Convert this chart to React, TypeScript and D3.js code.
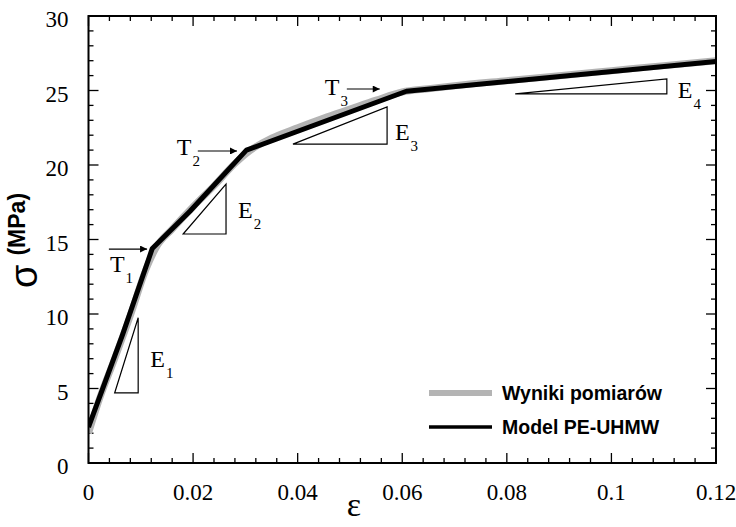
import React, { useRef, useEffect } from 'react';
import * as d3 from 'd3';

// axis ticks
const X_TICKS = [0, 0.02, 0.04, 0.06, 0.08, 0.1, 0.12];
const X_TICK_LABELS = ['0', '0.02', '0.04', '0.06', '0.08', '0.1', '0.12'];
const Y_TICKS = [0, 5, 10, 15, 20, 25, 30];
const Y_TICK_LABELS = ['0', '5', '10', '15', '20', '25', '30'];

// measured curve (gray)
const measStrain = [0, 0.002, 0.005, 0.008, 0.011, 0.013, 0.016, 0.02, 0.024, 0.028, 0.031, 0.035, 0.04, 0.045, 0.05, 0.055, 0.06, 0.065, 0.07, 0.08, 0.09, 0.1, 0.11, 0.12];
const measStress = [2.0, 4.2, 7.0, 9.9, 13.0, 14.5, 15.7, 17.2, 18.6, 20.1, 21.0, 21.8, 22.5, 23.15, 23.75, 24.35, 24.9, 25.12, 25.32, 25.66, 25.99, 26.33, 26.67, 27.0];

// model PE-UHMW (black)
const modelStrain = [0, 0.0065, 0.0122, 0.0194, 0.0302, 0.0608, 0.12];
const modelStress = [2.4, 8.6, 14.4, 16.9, 21.0, 24.95, 26.95];

// slope triangles E1..E4: hypotenuse from (x0, y0) to (x1, y1)
const triNames = ['1', '2', '3', '4'];
const triX0 = [0.005, 0.0181, 0.0391, 0.0816];
const triY0 = [4.7, 15.37, 21.4, 24.77];
const triX1 = [0.0095, 0.0263, 0.0571, 0.1106];
const triY1 = [9.75, 18.72, 23.9, 25.77];
const triLabelX = [0.0118, 0.0286, 0.0586, 0.1127];
const triLabelY = [6.44, 16.44, 21.68, 24.5];

// transition arrows T1..T3
const arrowNames = ['1', '2', '3'];
const arrowX0 = [0.0039, 0.0209, 0.0494];
const arrowX1 = [0.0112, 0.0284, 0.0557];
const arrowY = [14.36, 20.94, 25.1];
const arrowLabelX = [0.0041, 0.0169, 0.0452];
const arrowLabelY = [12.8, 20.67, 24.7];

const legendLabels = ['Wyniki pomiarów', 'Model PE-UHMW'];

export default function App() {
  const svgRef = useRef<SVGSVGElement>(null);

  useEffect(() => {
    if (!svgRef.current) return;
    const svg = d3.select(svgRef.current);
    svg.selectAll('*').remove();

    const width = 736;
    const height = 527;
    const margin = { top: 16, right: 20, bottom: 64, left: 88.5 };
    const serif = '"Times New Roman", "Liberation Serif", serif';
    const sans = 'Arial, "Liberation Sans", sans-serif';

    svg.attr('width', width).attr('height', height).attr('viewBox', `0 0 ${width} ${height}`);
    svg.append('rect').attr('width', width).attr('height', height).attr('fill', '#fff');

    const x = d3.scaleLinear().domain([0, 0.12]).range([margin.left, width - margin.right]);
    const y = d3.scaleLinear().domain([0, 30]).range([height - margin.bottom, margin.top]);

    const x0 = x(0), x1 = x(0.12), y0 = y(0), y1 = y(30);

    // minor / major ticks on all four sides, pointing inwards
    const xMinor = d3.range(0, 0.1201, 0.004);
    const yMinor = d3.range(0, 30.01, 1);
    const ticks = svg.append('g').attr('stroke', '#000').attr('stroke-width', 1.3);
    xMinor.forEach((v, i) => {
      const len = i % 5 === 0 ? 10 : 5;
      ticks.append('line').attr('x1', x(v)).attr('x2', x(v)).attr('y1', y0).attr('y2', y0 - len);
      ticks.append('line').attr('x1', x(v)).attr('x2', x(v)).attr('y1', y1).attr('y2', y1 + len);
    });
    yMinor.forEach((v, i) => {
      const len = i % 5 === 0 ? 10 : 5;
      ticks.append('line').attr('x1', x0).attr('x2', x0 + len).attr('y1', y(v)).attr('y2', y(v));
      ticks.append('line').attr('x1', x1).attr('x2', x1 - len).attr('y1', y(v)).attr('y2', y(v));
    });

    // curves
    const line = d3.line<[number, number]>().x(d => x(d[0])).y(d => y(d[1]));
    const meas = measStrain.map((s, i) => [s, measStress[i]] as [number, number]);
    const model = modelStrain.map((s, i) => [s, modelStress[i]] as [number, number]);

    const clip = svg.append('clipPath').attr('id', 'plot-clip');
    clip.append('rect').attr('x', x0).attr('y', y1).attr('width', x1 - x0).attr('height', y0 - y1);

    svg.append('path')
      .attr('d', line.curve(d3.curveMonotoneX)(meas))
      .attr('clip-path', 'url(#plot-clip)')
      .attr('fill', 'none')
      .attr('stroke', '#b4b4b4')
      .attr('stroke-width', 7)
      .attr('stroke-linejoin', 'round');

    svg.append('path')
      .attr('d', line.curve(d3.curveLinear)(model))
      .attr('clip-path', 'url(#plot-clip)')
      .attr('fill', 'none')
      .attr('stroke', '#000')
      .attr('stroke-width', 5)
      .attr('stroke-linejoin', 'round');

    // slope triangles
    triNames.forEach((n, i) => {
      const pts = [
        [x(triX0[i]), y(triY0[i])],
        [x(triX1[i]), y(triY1[i])],
        [x(triX1[i]), y(triY0[i])],
      ];
      svg.append('polygon')
        .attr('points', pts.map(p => p.join(',')).join(' '))
        .attr('fill', 'none')
        .attr('stroke', '#000')
        .attr('stroke-width', 1.2);
      const t = svg.append('text')
        .attr('x', x(triLabelX[i]))
        .attr('y', y(triLabelY[i]))
        .attr('font-family', serif)
        .attr('font-size', 24)
        .text('E');
      t.append('tspan').attr('font-size', 15).attr('dx', 1).attr('dy', 11).text(n);
    });

    // arrows
    const defs = svg.append('defs');
    defs.append('marker')
      .attr('id', 'arrowhead')
      .attr('viewBox', '0 0 10 10')
      .attr('refX', 10).attr('refY', 5)
      .attr('markerWidth', 10).attr('markerHeight', 7)
      .attr('markerUnits', 'userSpaceOnUse')
      .attr('orient', 'auto')
      .append('path').attr('d', 'M0,0 L10,5 L0,10 Z').attr('fill', '#000');

    arrowNames.forEach((n, i) => {
      svg.append('line')
        .attr('x1', x(arrowX0[i])).attr('x2', x(arrowX1[i]))
        .attr('y1', y(arrowY[i])).attr('y2', y(arrowY[i]))
        .attr('stroke', '#000').attr('stroke-width', 1.2)
        .attr('marker-end', 'url(#arrowhead)');
      const t = svg.append('text')
        .attr('x', x(arrowLabelX[i]))
        .attr('y', y(arrowLabelY[i]))
        .attr('font-family', serif)
        .attr('font-size', 24)
        .text('T');
      t.append('tspan').attr('font-size', 15).attr('dx', 1).attr('dy', 11).text(n);
    });

    // frame
    svg.append('rect')
      .attr('x', x0).attr('y', y1)
      .attr('width', x1 - x0).attr('height', y0 - y1)
      .attr('fill', 'none').attr('stroke', '#000').attr('stroke-width', 2);

    // tick labels
    svg.append('g').selectAll('text').data(X_TICKS).enter().append('text')
      .attr('x', d => x(d)).attr('y', y0 + 37)
      .attr('text-anchor', 'middle')
      .attr('font-family', serif).attr('font-size', 23)
      .text((d, i) => X_TICK_LABELS[i]);

    svg.append('g').selectAll('text').data(Y_TICKS).enter().append('text')
      .attr('x', x0 - 20).attr('y', d => y(d) + 11)
      .attr('text-anchor', 'end')
      .attr('font-family', serif).attr('font-size', 23)
      .text((d, i) => Y_TICK_LABELS[i]);

    // axis titles
    svg.append('text')
      .attr('x', 354).attr('y', 516)
      .attr('text-anchor', 'middle')
      .attr('font-family', serif).attr('font-size', 34)
      .text('ε');

    const yt = svg.append('text')
      .attr('transform', 'translate(37,288) rotate(-90)')
      .attr('font-family', sans);
    yt.append('tspan').attr('font-size', 38).text('σ');
    yt.append('tspan').attr('font-size', 23).attr('font-weight', 'bold').attr('dx', 9).attr('dy', -12).text('(MPa)');

    // legend
    const legend = svg.append('g');
    [['#b4b4b4', 6, 393], ['#000', 3.5, 427]].forEach((s, i) => {
      legend.append('line')
        .attr('x1', 429).attr('x2', 492)
        .attr('y1', s[2] as number).attr('y2', s[2] as number)
        .attr('stroke', s[0] as string).attr('stroke-width', s[1] as number);
      legend.append('text')
        .attr('x', 502).attr('y', (s[2] as number) + 7)
        .attr('font-family', sans).attr('font-weight', 'bold').attr('font-size', 19.5)
        .text(legendLabels[i]);
    });
  }, []);

  return (
    <div style={{ position: 'absolute', left: 0, top: 0 }}>
      <svg ref={svgRef} />
    </div>
  );
}
